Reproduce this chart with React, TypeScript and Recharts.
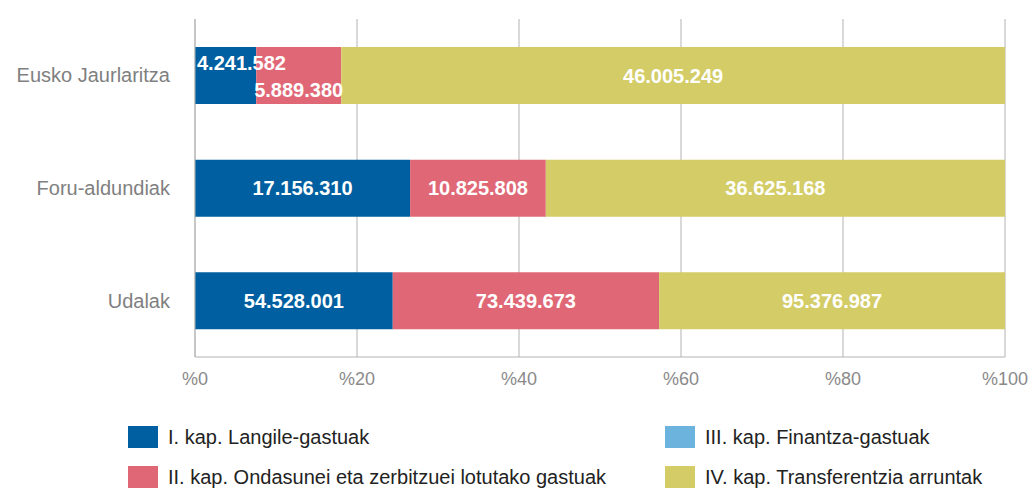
import { BarChart, Bar, XAxis, YAxis, CartesianGrid, LabelList } from "recharts";

const categories = ["Eusko Jaurlaritza", "Foru-aldundiak", "Udalak"];
const kap1 = [4241582, 17156310, 54528001];
const kap2 = [5889380, 10825808, 73439673];
const kap3 = [0, 0, 0];
const kap4 = [46005249, 36625168, 95376987];
const xTicks = [0, 0.2, 0.4, 0.6, 0.8, 1];

const series = [
  { key: "k1", name: "I. kap. Langile-gastuak", color: "#005fa0", values: kap1 },
  { key: "k2", name: "II. kap. Ondasunei eta zerbitzuei lotutako gastuak", color: "#e06876", values: kap2 },
  { key: "k3", name: "III. kap. Finantza-gastuak", color: "#6cb4de", values: kap3 },
  { key: "k4", name: "IV. kap. Transferentzia arruntak", color: "#d3cc67", values: kap4 },
];

const data = categories.map((name, i) => {
  const row: Record<string, string | number> = { name };
  series.forEach((s) => (row[s.key] = s.values[i]));
  return row;
});

const FONT = "'Liberation Sans', Arial, sans-serif";

const fmt = (v: number) => String(v).replace(/\B(?=(\d{3})+(?!\d))/g, ".");

function makeLabel(key: string) {
  return (props: any) => {
    const { x, y, width, height, value, index } = props;
    if (!value) return null;
    let tx = x + width / 2;
    let ty = y + height / 2;
    let anchor: "middle" | "start" = "middle";
    // narrow segments in the first bar: labels are staggered
    if (index === 0 && key === "k1") {
      tx = x + 2;
      anchor = "start";
      ty -= 13;
    } else if (index === 0 && key === "k2") {
      ty += 14;
    }
    return (
      <text x={tx} y={ty} textAnchor={anchor} dominantBaseline="central" fill="#fff" fontSize={20} fontWeight="bold" fontFamily={FONT}>
        {fmt(value)}
      </text>
    );
  };
}

export default function App() {
  return (
    <div style={{ position: "absolute", left: 0, top: 0, width: 1030, height: 493, background: "#fff", fontFamily: FONT }}>
      <BarChart
        width={1030}
        height={400}
        data={data}
        layout="vertical"
        stackOffset="expand"
        margin={{ top: 19, right: 25, left: 0, bottom: 0 }}
      >
        <CartesianGrid horizontal={false} stroke="#b3b3b3" />
        <XAxis
          type="number"
          domain={[0, 1]}
          ticks={xTicks}
          tickFormatter={(v: number) => `%${Math.round(v * 100)}`}
          height={43}
          tickLine={false}
          tickSize={0}
          tickMargin={15}
          axisLine={{ stroke: "#b3b3b3" }}
          tick={{ fill: "#8a8a8a", fontSize: 18, fontFamily: FONT }}
        />
        <YAxis
          type="category"
          dataKey="name"
          width={195}
          tickLine={false}
          tickSize={0}
          tickMargin={25}
          axisLine={{ stroke: "#b3b3b3" }}
          tick={{ fill: "#808080", fontSize: 20, fontFamily: FONT }}
        />
        {series.map((s) => (
          <Bar key={s.key} dataKey={s.key} name={s.name} stackId="a" fill={s.color} barSize={57} isAnimationActive={false}>
            <LabelList dataKey={s.key} content={makeLabel(s.key)} />
          </Bar>
        ))}
      </BarChart>
      <div style={{ position: "absolute", left: 128, top: 426, display: "grid", gridTemplateColumns: "537px 360px", rowGap: 18 }}>
        {[series[0], series[2], series[1], series[3]].map((s) => (
          <div key={s.key} style={{ display: "flex", alignItems: "center", height: 22 }}>
            <span style={{ display: "inline-block", width: 30, height: 22, background: s.color, marginRight: 10 }} />
            <span style={{ fontSize: 20, color: "#222", whiteSpace: "nowrap" }}>{s.name}</span>
          </div>
        ))}
      </div>
    </div>
  );
}
